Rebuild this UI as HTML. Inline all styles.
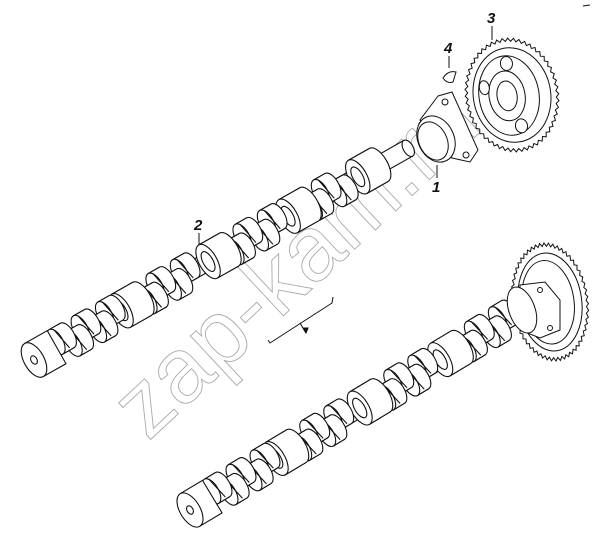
<!DOCTYPE html>
<html><head><meta charset="utf-8"><style>
html,body{margin:0;padding:0;background:#fff;width:600px;height:542px;overflow:hidden}
svg{display:block}
</style></head><body>
<svg id="s" width="600" height="542" viewBox="0 0 600 542" xmlns="http://www.w3.org/2000/svg" font-family="Liberation Sans, sans-serif">
<g id="wm"></g>
<g id="c1"></g>
<g id="c2"></g>
<g id="parts" stroke="#111" stroke-width="1" fill="#fff"></g>
<g id="lbl" font-style="italic" font-weight="bold" font-size="15" fill="#111"></g>
</svg>
<script>
var NS="http://www.w3.org/2000/svg";
function el(p,t,a){var e=document.createElementNS(NS,t);for(var k in a)e.setAttribute(k,a[k]);p.appendChild(e);return e;}
var wm=document.getElementById('wm');
var t=el(wm,'text',{x:0,y:0,transform:'translate(148,442) rotate(-43)','font-size':'92','font-family':'Liberation Sans, sans-serif',fill:'none',stroke:'#aaa','stroke-width':'0.9'});
t.textContent='zap-kam.ru';
function cam(id,x0,y0,ang,L,journals,lobes){
 var g=el(document.getElementById(id),'g',{transform:'translate('+x0+','+y0+') rotate('+ang+')',stroke:'#111','stroke-width':'1.1',fill:'#fff'});
 var items=[];
 journals.forEach(function(j){items.push({x:j,type:'j'});});
 lobes.forEach(function(l,i){items.push({x:l,type:'l',i:i});});
 items.sort(function(a,b){return b.x-a.x;});
 el(g,'rect',{x:0,y:-9,width:L,height:18});
 el(g,'ellipse',{cx:L,cy:0,rx:5,ry:9});
 items.forEach(function(it){
  if(it.type=='j'){
   el(g,'rect',{x:it.x,y:-19,width:24,height:38});
   el(g,'ellipse',{cx:it.x+24,cy:0,rx:9,ry:19});
   el(g,'rect',{x:it.x,y:-19,width:24,height:38,stroke:'none'});
   el(g,'line',{x1:it.x,y1:-19,x2:it.x+24,y2:-19});
   el(g,'line',{x1:it.x,y1:19,x2:it.x+24,y2:19});
   el(g,'ellipse',{cx:it.x,cy:0,rx:9,ry:19});
   el(g,'ellipse',{cx:it.x,cy:0,rx:5,ry:11,fill:'none'});
  } else {
   var off=(it.i%2?5:-5);
   el(g,'rect',{x:it.x,y:-14+off,width:13,height:28});
   el(g,'ellipse',{cx:it.x+13,cy:off,rx:7,ry:14});
   el(g,'rect',{x:it.x,y:-14+off,width:13,height:28,stroke:'none'});
   el(g,'line',{x1:it.x,y1:-14+off,x2:it.x+13,y2:-14+off});
   el(g,'line',{x1:it.x,y1:14+off,x2:it.x+13,y2:14+off});
   el(g,'ellipse',{cx:it.x,cy:off,rx:7,ry:14});
   el(g,'line',{x1:it.x+4,y1:-12+off,x2:it.x+9,y2:12+off});
  }
 });
 el(g,'rect',{x:0,y:-19,width:26,height:38});
 el(g,'ellipse',{cx:0,cy:0,rx:10,ry:19});
 el(g,'ellipse',{cx:0,cy:0,rx:3,ry:4.5});
 return g;
}
cam('c1',34,360,-29.5,430,[100,200,292,372],[28,42,56,70,84,128,142,156,170,228,242,256,270,318,332,346]);
cam('c2',190,510,-31,400,[100,198,292],[28,42,56,70,84,128,142,156,170,226,240,254,268,320,334,348,362]);
var P=document.getElementById('parts');
function gear(cx,cy,rx,ry,n,rot){
 var g=el(P,'g',{transform:'translate('+cx+','+cy+') rotate('+rot+')'});
 var d='';
 for(var i=0;i<n*2;i++){var a=i*Math.PI/n;var r=(i%2?1:1.06);
  d+=(i?'L':'M')+(rx*r*Math.cos(a)).toFixed(1)+','+(ry*r*Math.sin(a)).toFixed(1);}
 el(g,'path',{d:d+'Z',fill:'#fff'});
 el(g,'ellipse',{cx:0,cy:0,rx:rx*0.88,ry:ry*0.88});
 return g;
}
var g1=gear(512,95,44,54,52,-10);
el(g1,'ellipse',{cx:-3,cy:0,rx:30,ry:40});
el(g1,'ellipse',{cx:-5,cy:0,rx:18,ry:25});
el(g1,'ellipse',{cx:-5,cy:0,rx:10,ry:15});
el(g1,'ellipse',{cx:0,cy:-32,rx:6,ry:7});
el(g1,'ellipse',{cx:4,cy:32,rx:6,ry:7});
el(g1,'ellipse',{cx:-26,cy:-12,rx:5,ry:7});
el(P,'path',{d:'M438,96 L452,92 L478,150 L470,162 L452,158 L420,120 Z'});
el(P,'circle',{cx:445,cy:102,r:3});
el(P,'circle',{cx:466,cy:155,r:3});
el(P,'ellipse',{cx:436,cy:139,rx:18,ry:24,transform:'rotate(-25 436 139)'});
el(P,'ellipse',{cx:433,cy:141,rx:14,ry:20,transform:'rotate(-25 433 141)'});
el(P,'path',{d:'M443,78 Q448,70 456,72 L453,82 Q447,84 443,78 Z'});
var g2=gear(550,302,36,56,54,-8);
el(g2,'ellipse',{cx:-2,cy:0,rx:26,ry:42});
el(P,'path',{d:'M520,285 L545,282 L560,300 L560,330 L540,338 L520,330 Z'});
el(P,'circle',{cx:540,cy:290,r:2.5});
el(P,'circle',{cx:550,cy:328,r:2.5});
el(P,'ellipse',{cx:522,cy:310,rx:13,ry:24,transform:'rotate(-20 522 310)'});
el(P,'path',{d:'M268,340 L270,343 L332,303 L333,297',fill:'none'});
el(P,'line',{x1:300,y1:323,x2:306,y2:333});
el(P,'path',{d:'M306,333 L303,328 L308,328 Z',fill:'#111'});
el(P,'line',{x1:492,y1:26,x2:492,y2:40});
el(P,'line',{x1:449,y1:56,x2:449,y2:68});
el(P,'line',{x1:437,y1:165,x2:437,y2:178});
el(P,'line',{x1:199,y1:233,x2:199,y2:245});
el(P,'line',{x1:583,y1:6,x2:590,y2:5});
var L=document.getElementById('lbl');
[['3',487,23],['4',444,53],['1',432,192],['2',194,230]].forEach(function(a){var e=el(L,'text',{x:a[1],y:a[2]});e.textContent=a[0];});
</script>
</body></html>
